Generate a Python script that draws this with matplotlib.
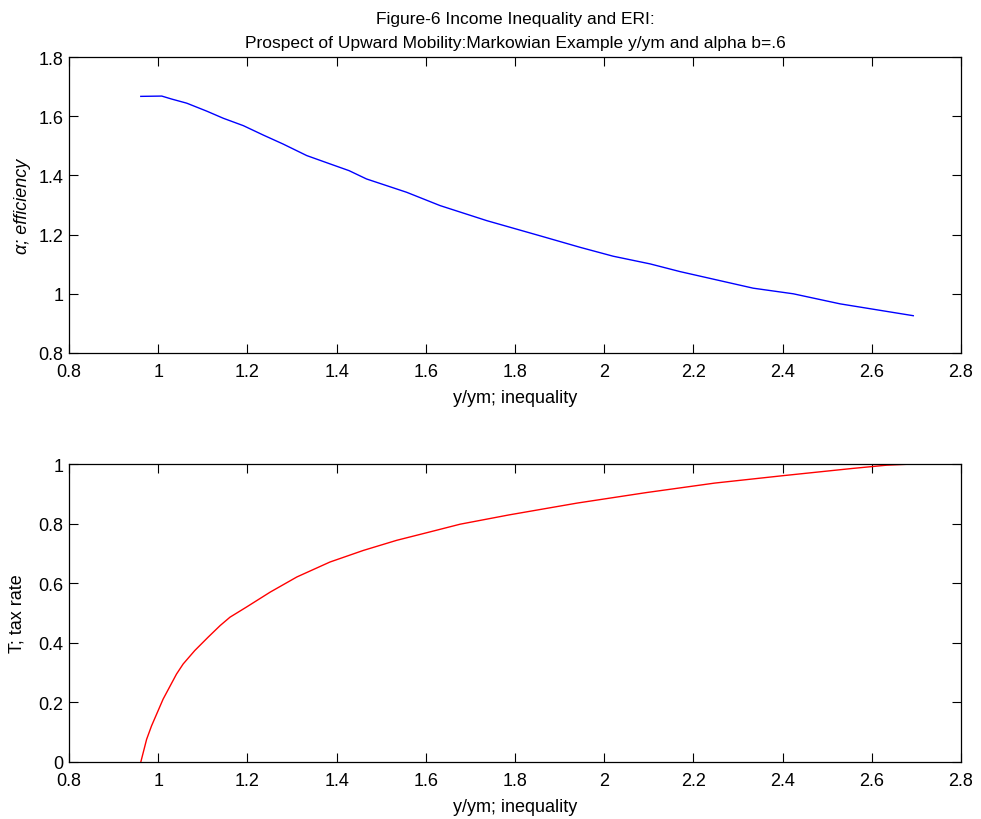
import numpy as np
import matplotlib
matplotlib.use('Agg')
import matplotlib.pyplot as plt

plt.rcParams['font.family'] = ['Liberation Sans', 'DejaVu Sans']
plt.rcParams['font.size'] = 13

# alpha (efficiency) vs y/ym
x_alpha = [0.961, 1.008, 1.030, 1.064, 1.109, 1.146, 1.191, 1.236, 1.280, 1.333,
           1.385, 1.428, 1.467, 1.557, 1.632, 1.737, 1.856, 1.946, 2.020, 2.103,
           2.170, 2.334, 2.424, 2.529, 2.693]
alpha = [1.667, 1.668, 1.658, 1.644, 1.617, 1.593, 1.568, 1.536, 1.506, 1.467,
         1.439, 1.416, 1.388, 1.343, 1.298, 1.247, 1.196, 1.157, 1.127, 1.101,
         1.075, 1.019, 1.000, 0.966, 0.926]

# tax rate T vs y/ym
x_tax = [0.961, 0.974, 0.985, 0.998, 1.011, 1.026, 1.041, 1.056, 1.082, 1.112,
         1.139, 1.161, 1.198, 1.251, 1.311, 1.385, 1.460, 1.535, 1.609, 1.677,
         1.786, 1.940, 2.094, 2.248, 2.402, 2.556, 2.633, 2.693]
tax = [0.0, 0.076, 0.121, 0.166, 0.211, 0.253, 0.295, 0.329, 0.374, 0.419,
       0.458, 0.486, 0.520, 0.570, 0.621, 0.671, 0.710, 0.744, 0.772, 0.798,
       0.829, 0.869, 0.904, 0.936, 0.961, 0.985, 0.996, 1.0]

W, H = 981, 820
fig = plt.figure(figsize=(W / 100, H / 100), dpi=100)

def box(l, t, r, b):
    return [l / W, 1 - b / H, (r - l) / W, (b - t) / H]

ax1 = fig.add_axes(box(69, 58, 961, 354))
ax2 = fig.add_axes(box(69, 465, 961, 763))

ax1.plot(x_alpha, alpha, color='blue', lw=1)
ax2.plot(x_tax, tax, color='red', lw=1)

for ax in (ax1, ax2):
    ax.set_xlim(0.8, 2.8)
    ax.set_xticks(np.arange(0.8, 2.81, 0.2))
    ax.set_xticklabels(['0.8', '1', '1.2', '1.4', '1.6', '1.8', '2', '2.2', '2.4', '2.6', '2.8'])
    ax.tick_params(direction='in', length=6.5, width=0.8, top=True, right=True, pad=4)
    ax.tick_params(axis='x', pad=7)
    for s in ax.spines.values():
        s.set_linewidth(0.9)
    ax.set_xlabel('y/ym; inequality', labelpad=7)

ax1.set_ylim(0.8, 1.8)
ax1.set_yticks(np.arange(0.8, 1.81, 0.2))
ax1.set_yticklabels(['0.8', '1', '1.2', '1.4', '1.6', '1.8'])
ax1.set_ylabel('α; efficiency', fontstyle='italic', labelpad=5)
ax1.set_title('Figure-6 Income Inequality and ERI:\n'
              'Prospect of Upward Mobility:Markowian Example y/ym and alpha b=.6',
              fontsize=12.5, pad=7, linespacing=1.75)

ax2.set_ylim(0, 1)
ax2.set_yticks(np.arange(0, 1.01, 0.2))
ax2.set_yticklabels(['0', '0.2', '0.4', '0.6', '0.8', '1'])
ax2.set_ylabel('T; tax rate', labelpad=9)

fig.savefig('out.png', dpi=100)
